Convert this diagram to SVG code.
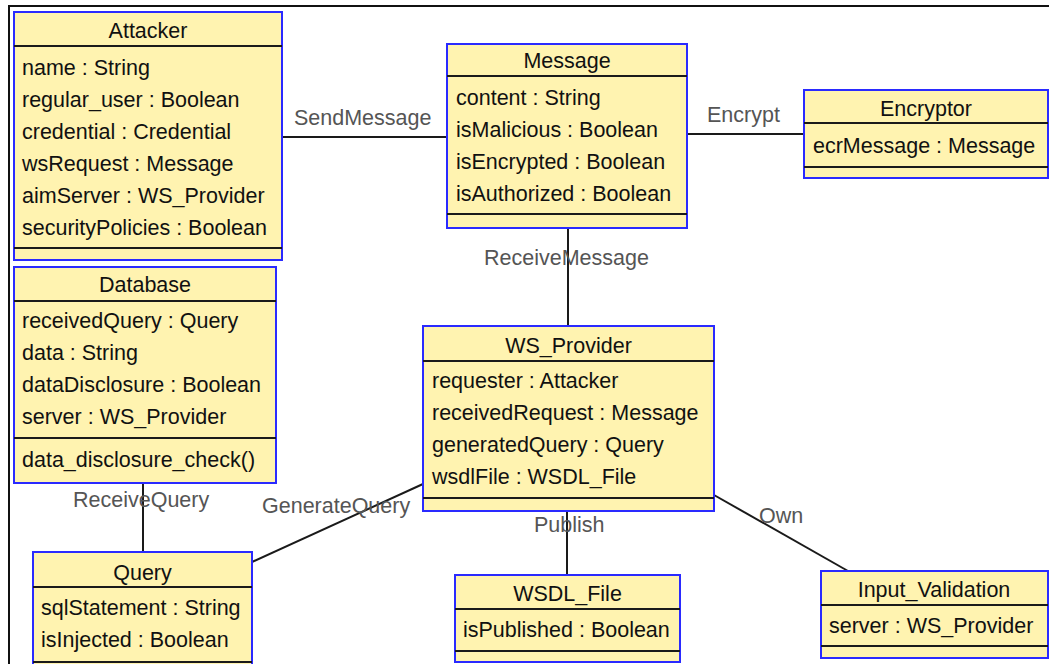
<svg xmlns="http://www.w3.org/2000/svg" width="1049" height="664" viewBox="0 0 1049 664">
  <style>
    .box { fill: #fff3b0; stroke: #2a2aff; stroke-width: 2; }
    .sep { stroke: #1a1a1a; stroke-width: 2; }
    .title { font-family: "Liberation Sans", Arial, sans-serif; font-size: 21.5px; fill: #111; text-anchor: middle; }
    .attr { font-family: "Liberation Sans", Arial, sans-serif; font-size: 21.5px; fill: #111; }
    .lbl { font-family: "Liberation Sans", Arial, sans-serif; font-size: 21.5px; fill: #555; }
    .conn { stroke: #1a1a1a; stroke-width: 2; fill: none; }
    .frame { stroke: #111; stroke-width: 2; fill: none; }
  </style>
  <rect x="0" y="0" width="1049" height="664" fill="#ffffff"/>
  <!-- outer drawing frame -->
  <path class="frame" d="M9,664 V6 H1049"/>

  <!-- associations -->
  <g id="connectors">
    <line class="conn" x1="282" y1="137" x2="447" y2="137"/>
    <line class="conn" x1="687" y1="134" x2="804" y2="134"/>
    <line class="conn" x1="568" y1="228" x2="568" y2="326"/>
    <line class="conn" x1="143" y1="483" x2="143" y2="552"/>
    <line class="conn" x1="252" y1="562" x2="423" y2="484" stroke-width="1.4"/>
    <line class="conn" x1="567" y1="511" x2="567" y2="575"/>
    <line class="conn" x1="714" y1="495" x2="848" y2="571" stroke-width="1.4"/>
    <text class="lbl" x="294" y="125">SendMessage</text>
    <text class="lbl" x="707" y="122">Encrypt</text>
    <text class="lbl" x="484" y="265">ReceiveMessage</text>
    <text class="lbl" x="73" y="507">ReceiveQuery</text>
    <text class="lbl" x="262" y="513">GenerateQuery</text>
    <text class="lbl" x="534" y="532">Publish</text>
    <text class="lbl" x="759" y="523">Own</text>
  </g>

  <g id="Attacker">
    <rect class="box" x="14" y="12" width="268" height="248"/>
    <line class="sep" x1="14" y1="46" x2="282" y2="46"/>
    <line class="sep" x1="14" y1="248" x2="282" y2="248"/>
    <text class="title" x="148" y="38">Attacker</text>
    <text class="attr" x="22" y="75">name : String</text>
    <text class="attr" x="22" y="107">regular_user : Boolean</text>
    <text class="attr" x="22" y="139">credential : Credential</text>
    <text class="attr" x="22" y="171">wsRequest : Message</text>
    <text class="attr" x="22" y="203">aimServer : WS_Provider</text>
    <text class="attr" x="22" y="235">securityPolicies : Boolean</text>
  </g>

  <g id="Message">
    <rect class="box" x="447" y="44" width="240" height="184"/>
    <line class="sep" x1="447" y1="76" x2="687" y2="76"/>
    <line class="sep" x1="447" y1="214" x2="687" y2="214"/>
    <text class="title" x="567" y="68">Message</text>
    <text class="attr" x="456" y="105">content : String</text>
    <text class="attr" x="456" y="137">isMalicious : Boolean</text>
    <text class="attr" x="456" y="169">isEncrypted : Boolean</text>
    <text class="attr" x="456" y="201">isAuthorized : Boolean</text>
  </g>

  <g id="Encryptor">
    <rect class="box" x="804" y="90" width="244" height="88"/>
    <line class="sep" x1="804" y1="123" x2="1048" y2="123"/>
    <line class="sep" x1="804" y1="167" x2="1048" y2="167"/>
    <text class="title" x="926" y="116">Encryptor</text>
    <text class="attr" x="813" y="153">ecrMessage : Message</text>
  </g>

  <g id="Database">
    <rect class="box" x="14" y="267" width="262" height="216"/>
    <line class="sep" x1="14" y1="301" x2="276" y2="301"/>
    <line class="sep" x1="14" y1="438" x2="276" y2="438"/>
    <text class="title" x="145" y="292">Database</text>
    <text class="attr" x="22" y="328">receivedQuery : Query</text>
    <text class="attr" x="22" y="360">data : String</text>
    <text class="attr" x="22" y="392">dataDisclosure : Boolean</text>
    <text class="attr" x="22" y="424">server : WS_Provider</text>
    <text class="attr" x="22" y="467">data_disclosure_check()</text>
  </g>

  <g id="WS_Provider">
    <rect class="box" x="423" y="326" width="291" height="185"/>
    <line class="sep" x1="423" y1="361" x2="714" y2="361"/>
    <line class="sep" x1="423" y1="498" x2="714" y2="498"/>
    <text class="title" x="568.5" y="353">WS_Provider</text>
    <text class="attr" x="432" y="388">requester : Attacker</text>
    <text class="attr" x="432" y="420">receivedRequest : Message</text>
    <text class="attr" x="432" y="452">generatedQuery : Query</text>
    <text class="attr" x="432" y="484">wsdlFile : WSDL_File</text>
  </g>

  <g id="Query">
    <rect class="box" x="33" y="552" width="219" height="130"/>
    <line class="sep" x1="33" y1="587" x2="252" y2="587"/>
    <line class="sep" x1="33" y1="662" x2="252" y2="662"/>
    <text class="title" x="142.5" y="580">Query</text>
    <text class="attr" x="41" y="615">sqlStatement : String</text>
    <text class="attr" x="41" y="647">isInjected : Boolean</text>
  </g>

  <g id="WSDL_File">
    <rect class="box" x="455" y="575" width="225" height="87"/>
    <line class="sep" x1="455" y1="609" x2="680" y2="609"/>
    <line class="sep" x1="455" y1="651" x2="680" y2="651"/>
    <text class="title" x="567.5" y="601">WSDL_File</text>
    <text class="attr" x="463" y="637">isPublished : Boolean</text>
  </g>

  <g id="Input_Validation">
    <rect class="box" x="821" y="571" width="227" height="87"/>
    <line class="sep" x1="821" y1="605" x2="1048" y2="605"/>
    <line class="sep" x1="821" y1="646" x2="1048" y2="646"/>
    <text class="title" x="934" y="597">Input_Validation</text>
    <text class="attr" x="829" y="633">server : WS_Provider</text>
  </g>
</svg>
